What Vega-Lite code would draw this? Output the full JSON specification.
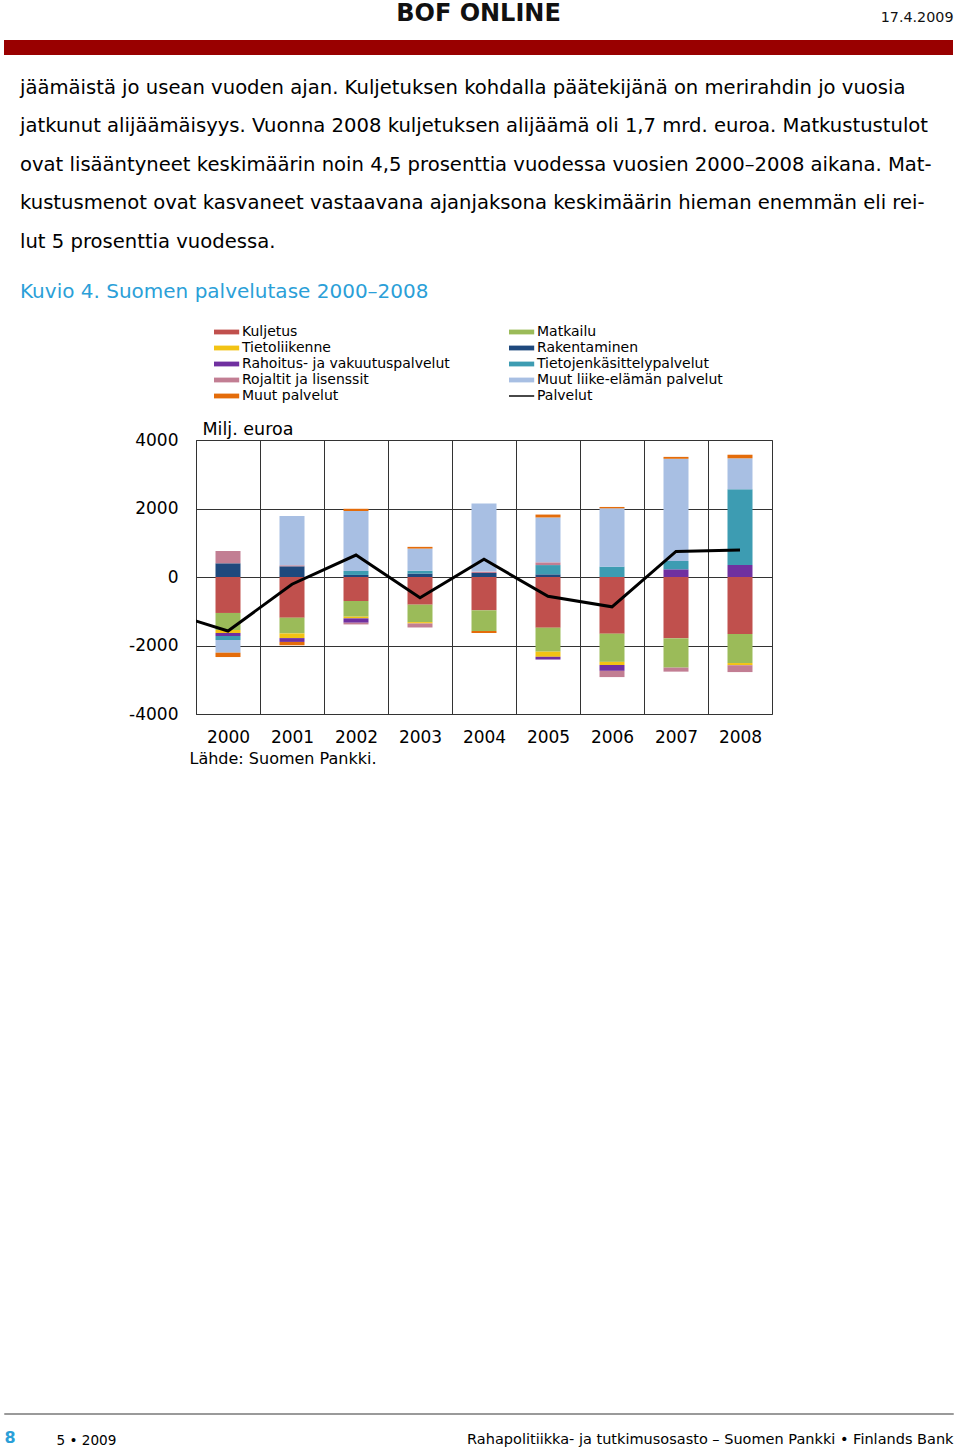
{
  "$schema": "https://vega.github.io/schema/vega-lite/v6.json",
  "background": "white",
  "padding": {"left": 3, "top": 2, "right": 0, "bottom": 0},
  "spacing": 22,
  "resolve": {"scale": {"color": "independent"}, "legend": {"color": "independent"}},
  "config": {
    "font": "DejaVu Sans",
    "view": {"stroke": null},
    "axis": {"labelFont": "DejaVu Sans", "titleFont": "DejaVu Sans", "labelColor": "#000", "titleColor": "#000", "titleFontWeight": "normal"},
    "title": {"font": "DejaVu Sans", "color": "#000", "fontWeight": "normal"}
  },
  "datasets": {
    "bars": [
      {"year": 2000, "k": 1, "series": "Kuljetus", "value": -1050},
      {"year": 2000, "k": 2, "series": "Matkailu", "value": -497},
      {"year": 2000, "k": 3, "series": "Tietoliikenne", "value": -88},
      {"year": 2000, "k": 4, "series": "Rakentaminen", "value": 400},
      {"year": 2000, "k": 5, "series": "Rahoitus- ja vakuutuspalvelut", "value": -88},
      {"year": 2000, "k": 6, "series": "Tietojenkäsittelypalvelut", "value": -117},
      {"year": 2000, "k": 7, "series": "Rojaltit ja lisenssit", "value": 360},
      {"year": 2000, "k": 8, "series": "Muut liike-elämän palvelut", "value": -370},
      {"year": 2000, "k": 9, "series": "Muut palvelut", "value": -127},
      {"year": 2001, "k": 1, "series": "Kuljetus", "value": -1188},
      {"year": 2001, "k": 2, "series": "Matkailu", "value": -460},
      {"year": 2001, "k": 3, "series": "Tietoliikenne", "value": -136},
      {"year": 2001, "k": 4, "series": "Rakentaminen", "value": 312},
      {"year": 2001, "k": 5, "series": "Rahoitus- ja vakuutuspalvelut", "value": -112},
      {"year": 2001, "k": 7, "series": "Rojaltit ja lisenssit", "value": 30},
      {"year": 2001, "k": 8, "series": "Muut liike-elämän palvelut", "value": 1440},
      {"year": 2001, "k": 9, "series": "Muut palvelut", "value": -97},
      {"year": 2002, "k": 1, "series": "Kuljetus", "value": -700},
      {"year": 2002, "k": 2, "series": "Matkailu", "value": -458},
      {"year": 2002, "k": 3, "series": "Tietoliikenne", "value": -50},
      {"year": 2002, "k": 4, "series": "Rakentaminen", "value": 60},
      {"year": 2002, "k": 5, "series": "Rahoitus- ja vakuutuspalvelut", "value": -127},
      {"year": 2002, "k": 6, "series": "Tietojenkäsittelypalvelut", "value": 117},
      {"year": 2002, "k": 7, "series": "Rojaltit ja lisenssit", "value": -50},
      {"year": 2002, "k": 8, "series": "Muut liike-elämän palvelut", "value": 1750},
      {"year": 2002, "k": 9, "series": "Muut palvelut", "value": 65},
      {"year": 2003, "k": 1, "series": "Kuljetus", "value": -808},
      {"year": 2003, "k": 2, "series": "Matkailu", "value": -510},
      {"year": 2003, "k": 3, "series": "Tietoliikenne", "value": -39},
      {"year": 2003, "k": 4, "series": "Rakentaminen", "value": 100},
      {"year": 2003, "k": 6, "series": "Tietojenkäsittelypalvelut", "value": 80},
      {"year": 2003, "k": 7, "series": "Rojaltit ja lisenssit", "value": -117},
      {"year": 2003, "k": 8, "series": "Muut liike-elämän palvelut", "value": 650},
      {"year": 2003, "k": 9, "series": "Muut palvelut", "value": 50},
      {"year": 2004, "k": 1, "series": "Kuljetus", "value": -973},
      {"year": 2004, "k": 2, "series": "Matkailu", "value": -604},
      {"year": 2004, "k": 4, "series": "Rakentaminen", "value": 117},
      {"year": 2004, "k": 7, "series": "Rojaltit ja lisenssit", "value": 40},
      {"year": 2004, "k": 8, "series": "Muut liike-elämän palvelut", "value": 1990},
      {"year": 2004, "k": 9, "series": "Muut palvelut", "value": -58},
      {"year": 2005, "k": 1, "series": "Kuljetus", "value": -1480},
      {"year": 2005, "k": 2, "series": "Matkailu", "value": -700},
      {"year": 2005, "k": 3, "series": "Tietoliikenne", "value": -150},
      {"year": 2005, "k": 4, "series": "Rakentaminen", "value": 78},
      {"year": 2005, "k": 5, "series": "Rahoitus- ja vakuutuspalvelut", "value": -80},
      {"year": 2005, "k": 6, "series": "Tietojenkäsittelypalvelut", "value": 270},
      {"year": 2005, "k": 7, "series": "Rojaltit ja lisenssit", "value": 80},
      {"year": 2005, "k": 8, "series": "Muut liike-elämän palvelut", "value": 1310},
      {"year": 2005, "k": 9, "series": "Muut palvelut", "value": 85},
      {"year": 2006, "k": 1, "series": "Kuljetus", "value": -1655},
      {"year": 2006, "k": 2, "series": "Matkailu", "value": -823},
      {"year": 2006, "k": 3, "series": "Tietoliikenne", "value": -92},
      {"year": 2006, "k": 5, "series": "Rahoitus- ja vakuutuspalvelut", "value": -170},
      {"year": 2006, "k": 6, "series": "Tietojenkäsittelypalvelut", "value": 302},
      {"year": 2006, "k": 7, "series": "Rojaltit ja lisenssit", "value": -182},
      {"year": 2006, "k": 8, "series": "Muut liike-elämän palvelut", "value": 1703},
      {"year": 2006, "k": 9, "series": "Muut palvelut", "value": 40},
      {"year": 2007, "k": 1, "series": "Kuljetus", "value": -1790},
      {"year": 2007, "k": 2, "series": "Matkailu", "value": -856},
      {"year": 2007, "k": 5, "series": "Rahoitus- ja vakuutuspalvelut", "value": 224},
      {"year": 2007, "k": 6, "series": "Tietojenkäsittelypalvelut", "value": 243},
      {"year": 2007, "k": 7, "series": "Rojaltit ja lisenssit", "value": -117},
      {"year": 2007, "k": 8, "series": "Muut liike-elämän palvelut", "value": 2985},
      {"year": 2007, "k": 9, "series": "Muut palvelut", "value": 55},
      {"year": 2008, "k": 1, "series": "Kuljetus", "value": -1665},
      {"year": 2008, "k": 2, "series": "Matkailu", "value": -847},
      {"year": 2008, "k": 3, "series": "Tietoliikenne", "value": -64},
      {"year": 2008, "k": 5, "series": "Rahoitus- ja vakuutuspalvelut", "value": 350},
      {"year": 2008, "k": 6, "series": "Tietojenkäsittelypalvelut", "value": 2210},
      {"year": 2008, "k": 7, "series": "Rojaltit ja lisenssit", "value": -200},
      {"year": 2008, "k": 8, "series": "Muut liike-elämän palvelut", "value": 905},
      {"year": 2008, "k": 9, "series": "Muut palvelut", "value": 105}
    ],
    "total": [
      {"year": 1999, "value": -990},
      {"year": 2000, "value": -1577},
      {"year": 2001, "value": -210},
      {"year": 2002, "value": 640},
      {"year": 2003, "value": -605},
      {"year": 2004, "value": 517},
      {"year": 2005, "value": -565},
      {"year": 2006, "value": -870},
      {"year": 2007, "value": 745},
      {"year": 2008, "value": 785}
    ]
  },
  "vconcat": [
    {
      "width": 949,
      "height": 15,
      "view": {"fill": "#990000", "stroke": null},
      "title": {"text": "BOF ONLINE", "anchor": "middle", "frame": "group", "fontSize": 24, "fontWeight": "bold", "color": "#111111", "offset": -16},
      "data": {"values": [{}]},
      "mark": {"type": "point", "opacity": 0, "size": 0},
      "encoding": {
        "x": {"datum": 0, "type": "quantitative", "axis": {"orient": "top", "title": "17.4.2009", "labels": false, "ticks": false, "domain": false, "grid": false, "titleFontSize": 14.3, "titleX": 949, "titleY": -19, "titleAlign": "right", "titleBaseline": "alphabetic", "titleColor": "#111111"}}
      }
    },
    {
      "spacing": 0,
      "resolve": {"scale": {"color": "independent"}, "legend": {"color": "independent"}},
      "hconcat": [
        {
          "width": 15,
          "height": 1,
          "data": {"values": []},
          "mark": {"type": "point", "opacity": 0},
          "encoding": {}
        },
        {
          "width": 576,
          "height": 274,
          "view": {"stroke": "#333333", "strokeWidth": 1},
          "title": {
            "text": [
              "jäämäistä jo usean vuoden ajan. Kuljetuksen kohdalla päätekijänä on merirahdin jo vuosia",
              "jatkunut alijäämäisyys. Vuonna 2008 kuljetuksen alijäämä oli 1,7 mrd. euroa. Matkustustulot",
              "ovat lisääntyneet keskimäärin noin 4,5 prosenttia vuodessa vuosien 2000–2008 aikana. Mat-",
              "kustusmenot ovat kasvaneet vastaavana ajanjaksona keskimäärin hieman enemmän eli rei-",
              "lut 5 prosenttia vuodessa."
            ],
            "subtitle": "Kuvio 4. Suomen palvelutase 2000–2008",
            "anchor": "start",
            "frame": "group",
            "dx": -176,
            "fontSize": 19.6,
            "lineHeight": 38.5,
            "color": "#000000",
            "subtitleFontSize": 20,
            "subtitleColor": "#2b9fd8",
            "subtitlePadding": 29,
            "offset": 22.5
          },
          "encoding": {
            "x": {
              "field": "year", "type": "quantitative",
              "scale": {"domain": [1999.5, 2008.5], "nice": false, "zero": false, "padding": 0},
              "axis": {
                "values": [1999.5, 2000.5, 2001.5, 2002.5, 2003.5, 2004.5, 2005.5, 2006.5, 2007.5],
                "labelExpr": "'' + (datum.value + 0.5)",
                "labelOffset": 32, "labelAlign": "center", "labelFlush": false, "labelOverlap": false,
                "labelPadding": 15, "labelFontSize": 17,
                "ticks": false, "domain": false, "grid": true, "gridColor": "#333333", "gridOpacity": 1,
                "title": "Lähde: Suomen Pankki.", "titleFontSize": 16, "titleX": -7, "titleY": 44,
                "titleAlign": "left", "titleAnchor": "start", "titleBaseline": "middle"
              }
            },
            "y": {
              "field": "value", "type": "quantitative",
              "scale": {"domain": [-4000, 4000], "nice": false},
              "axis": {
                "values": [-4000, -2000, 0, 2000, 4000],
                "labelExpr": "'' + datum.value",
                "labelFlush": false, "labelPadding": 18, "labelFontSize": 17,
                "ticks": false, "domain": false, "grid": true, "gridColor": "#333333", "gridOpacity": 1,
                "title": null
              }
            }
          },
          "layer": [
            {
              "data": {"name": "bars"},
              "mark": {"type": "bar", "width": 25},
              "encoding": {
                "color": {
                  "field": "series", "type": "nominal",
                  "scale": {
                    "domain": ["Kuljetus", "Tietoliikenne", "Rahoitus- ja vakuutuspalvelut", "Rojaltit ja lisenssit", "Muut palvelut", "Matkailu", "Rakentaminen", "Tietojenkäsittelypalvelut", "Muut liike-elämän palvelut", "Palvelut"],
                    "range": ["#c0504d", "#f2c314", "#7030a0", "#c27e93", "#e46c0a", "#9bbb59", "#1f497d", "#3d9cb2", "#a8bfe3", "#000000"]
                  },
                  "legend": {
                    "orient": "none", "legendX": 23.6, "legendY": -115,
                    "columns": 2, "title": null, "padding": 0,
                    "symbolType": "M-2.1,-0.4H2.1V0.4H-2.1Z", "symbolSize": 144, "symbolStrokeWidth": 0,
                    "labelFont": "DejaVu Sans", "labelFontSize": 14, "labelColor": "#000000", "labelOffset": 8.4, "labelLimit": 400,
                    "rowPadding": 2, "columnPadding": 58,
                    "encode": {
                      "symbols": {
                        "update": {
                          "shape": {"signal": "datum.value === 'Palvelut' ? 'M-2.1,-0.12H2.1V0.12H-2.1Z' : 'M-2.1,-0.4H2.1V0.4H-2.1Z'"},
                          "strokeWidth": {"value": 0}
                        }
                      }
                    }
                  }
                },
                "order": {"field": "k", "type": "quantitative"}
              }
            },
            {
              "data": {"name": "total"},
              "mark": {"type": "line", "strokeWidth": 3, "clip": true},
              "encoding": {
                "x": {
                  "field": "year", "type": "quantitative",
                  "scale": {"domain": [1999.5, 2008.5], "nice": false, "zero": false, "padding": 0},
                  "axis": {
                    "orient": "top", "title": "Milj. euroa", "labels": false, "ticks": false, "domain": false, "grid": false,
                    "titleFontSize": 17.5, "titleX": 6, "titleY": -11, "titleAlign": "left", "titleAnchor": "start", "titleBaseline": "middle"
                  }
                },
                "color": {"datum": "Palvelut"}
              }
            }
          ],
          "resolve": {"axis": {"x": "independent"}}
        }
      ]
    },
    {
      "width": 1,
      "height": 601,
      "data": {"values": []},
      "mark": {"type": "point", "opacity": 0},
      "encoding": {}
    },
    {
      "width": 949,
      "height": 1,
      "view": {"stroke": "#9a9a9a", "fill": null},
      "data": {"values": [{}]},
      "layer": [
        {
          "mark": {"type": "point", "opacity": 0, "size": 0},
          "encoding": {
            "x": {"datum": 0, "type": "quantitative", "axis": {"orient": "bottom", "title": "5 • 2009", "labels": false, "ticks": false, "domain": false, "grid": false, "titleFontSize": 13.6, "titleX": 52, "titleY": 26, "titleAlign": "left", "titleAnchor": "start", "titleBaseline": "middle"}},
            "y": {"datum": 0, "type": "quantitative", "axis": {"orient": "left", "title": "8", "labels": false, "ticks": false, "domain": false, "grid": false, "titleFontSize": 16, "titleFontWeight": "bold", "titleColor": "#2b9fd8", "titleX": 0, "titleY": 24, "titleAngle": 0, "titleAlign": "left", "titleBaseline": "middle"}}
          }
        },
        {
          "mark": {"type": "point", "opacity": 0, "size": 0},
          "encoding": {
            "y": {"datum": 0, "type": "quantitative", "axis": {"orient": "right", "title": "Rahapolitiikka- ja tutkimusosasto – Suomen Pankki • Finlands Bank", "labels": false, "ticks": false, "domain": false, "grid": false, "titleFontSize": 14.5, "titleX": 0, "titleY": 26, "titleAngle": 0, "titleAlign": "right", "titleBaseline": "middle"}}
          }
        }
      ],
      "resolve": {"axis": {"y": "independent"}}
    }
  ]
}
